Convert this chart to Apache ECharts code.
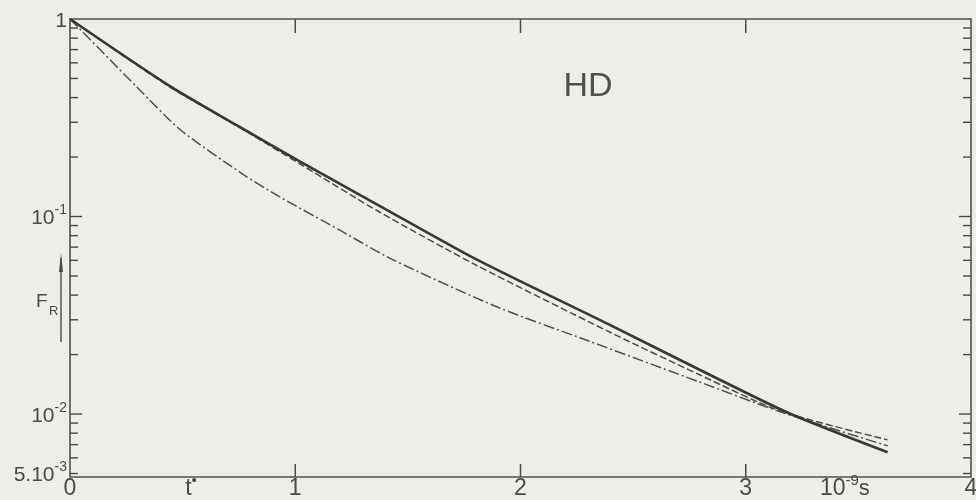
<!DOCTYPE html>
<html>
<head>
<meta charset="utf-8">
<script src="https://cdn.jsdelivr.net/npm/echarts@6/dist/echarts.min.js"></script>
<style>
  html, body { margin: 0; padding: 0; background: #eeede8; }
  #chart { width: 976px; height: 500px; }
</style>
</head>
<body>
<div id="chart"></div>
<script>
// Relaxation function F_R(t), t in units of 1e-9 s
const tSolid = [0, 0.44, 0.74, 1.02, 1.37, 1.80, 2.39, 2.88, 3.20, 3.63];
const fSolid = [1, 0.46, 0.29, 0.19, 0.114, 0.061, 0.0285, 0.0150, 0.0100, 0.0064];

const tDashed = [0, 0.44, 0.74, 1.02, 1.37, 1.80, 2.39, 2.79, 3.15, 3.63];
const fDashed = [1, 0.455, 0.288, 0.185, 0.106, 0.057, 0.0262, 0.0159, 0.0104, 0.0074];

const tDashDot = [0, 0.30, 0.49, 0.77, 0.93, 1.20, 1.43, 1.90, 2.30, 2.79, 3.16, 3.63];
const fDashDot = [1, 0.449, 0.275, 0.163, 0.126, 0.085, 0.0607, 0.0347, 0.0235, 0.0146, 0.0102, 0.0069];

// Axis ticks and labels
const yMajorTicks = [0.1, 0.01];
const yMinorTicks = [0.9, 0.8, 0.7, 0.6, 0.5, 0.4, 0.3, 0.2,
                     0.09, 0.08, 0.07, 0.06, 0.05, 0.04, 0.03, 0.02,
                     0.009, 0.008, 0.007, 0.006, 0.005];
const xTicks = [1, 2, 3];

const yLabelValues = [1, 0.1, 0.01, 0.005];
const yLabelBase = ['1', '10', '10', '5.10'];
const yLabelExp = ['', '-1', '-2', '-3'];

const xLabelValues = [0, 0.537, 1, 2, 3, 3.44, 4];
const xLabelBase = ['0', 't', '1', '2', '3', '10', '4'];
const xLabelSup = ['', '•', '', '', '', '-9', ''];
const xLabelTail = ['', '', '', '', '', 's', ''];

const X_MIN = 0, X_MAX = 4;
const Y_MIN = 0.0048, Y_MAX = 1;

const INK = '#4a4a4a';
const FONT = 'Liberation Sans';

const measureCtx = document.createElement('canvas').getContext('2d');
function textWidth(str, size) {
  measureCtx.font = size + 'px "' + FONT + '"';
  return measureCtx.measureText(str).width;
}

// lay out a run of text pieces (base, superscript, tail) side by side
function textRun(parts, x, y, align) {
  const items = parts.filter(p => p.text);
  const widths = items.map(p => textWidth(p.text, p.size));
  const total = widths.reduce((a, b) => a + b, 0);
  let left = align === 'right' ? x - total : align === 'center' ? x - total / 2 : x;
  return items.map((p, i) => {
    const el = {
      type: 'text',
      x: left,
      y: y + (p.dy || 0),
      style: {
        text: p.text,
        fontSize: p.size,
        fontFamily: FONT,
        fill: INK,
        align: 'left',
        verticalAlign: 'middle'
      }
    };
    left += widths[i];
    return el;
  });
}

const majorSet = new Set(yMajorTicks);
const yTickData = yMajorTicks.concat(yMinorTicks).map(v => [X_MIN, v]);

const chart = echarts.init(document.getElementById('chart'), null, { renderer: 'canvas' });

chart.setOption({
  animation: false,
  backgroundColor: '#eeede8',
  grid: {
    left: 70, top: 19, width: 901, height: 458,
    show: true,
    backgroundColor: 'transparent',
    borderColor: '#505050',
    borderWidth: 1.6
  },
  xAxis: {
    type: 'value', min: X_MIN, max: X_MAX,
    axisLine: { show: false }, axisTick: { show: false },
    axisLabel: { show: false }, splitLine: { show: false }
  },
  yAxis: {
    type: 'log', logBase: 10, min: Y_MIN, max: Y_MAX,
    axisLine: { show: false }, axisTick: { show: false },
    axisLabel: { show: false }, splitLine: { show: false }
  },
  series: [
    {
      name: 'solid',
      type: 'line',
      data: tSolid.map((t, i) => [t, fSolid[i]]),
      showSymbol: false,
      smooth: 0.25,
      lineStyle: { color: '#383838', width: 2.6, type: 'solid' },
      z: 4
    },
    {
      name: 'dashed',
      type: 'line',
      data: tDashed.map((t, i) => [t, fDashed[i]]),
      showSymbol: false,
      smooth: 0.25,
      lineStyle: { color: '#4a4a4a', width: 1.5, type: [7, 3] },
      z: 3
    },
    {
      name: 'dash-dot',
      type: 'line',
      data: tDashDot.map((t, i) => [t, fDashDot[i]]),
      showSymbol: false,
      smooth: 0.25,
      lineStyle: { color: '#505050', width: 1.5, type: [11, 3, 2, 3] },
      z: 3
    },
    {
      // inward ticks on left and right frame
      type: 'custom',
      silent: true,
      data: yTickData,
      encode: { x: 0, y: 1 },
      renderItem(params, api) {
        const v = api.value(1);
        const pl = api.coord([X_MIN, v]);
        const pr = api.coord([X_MAX, v]);
        const len = majorSet.has(v) ? 12 : 8;
        const st = { stroke: INK, lineWidth: 1.4 };
        return {
          type: 'group',
          children: [
            { type: 'line', shape: { x1: pl[0], y1: pl[1], x2: pl[0] + len, y2: pl[1] }, style: st },
            { type: 'line', shape: { x1: pr[0], y1: pr[1], x2: pr[0] - len, y2: pr[1] }, style: st }
          ]
        };
      },
      z: 5
    },
    {
      // inward ticks on bottom and top frame
      type: 'custom',
      silent: true,
      data: xTicks.map(v => [v, Y_MIN]),
      encode: { x: 0, y: 1 },
      renderItem(params, api) {
        const v = api.value(0);
        const pb = api.coord([v, Y_MIN]);
        const pt = api.coord([v, Y_MAX]);
        const st = { stroke: INK, lineWidth: 1.5 };
        return {
          type: 'group',
          children: [
            { type: 'line', shape: { x1: pb[0], y1: pb[1], x2: pb[0], y2: pb[1] - 13 }, style: st },
            { type: 'line', shape: { x1: pt[0], y1: pt[1], x2: pt[0], y2: pt[1] + 14 }, style: st }
          ]
        };
      },
      z: 5
    },
    {
      // y labels with exponents
      type: 'custom',
      silent: true,
      data: yLabelValues.map((v, i) => [X_MIN, v, i]),
      encode: { x: 0, y: 1 },
      renderItem(params, api) {
        const i = api.value(2);
        const p = api.coord([X_MIN, api.value(1)]);
        return {
          type: 'group',
          children: textRun([
            { text: yLabelBase[i], size: 21 },
            { text: yLabelExp[i], size: 14, dy: -8 }
          ], p[0] - 3, p[1] + 2, 'right')
        };
      },
      z: 6
    },
    {
      // x labels
      type: 'custom',
      silent: true,
      data: xLabelValues.map((v, i) => [v, Y_MIN, i]),
      encode: { x: 0, y: 1 },
      renderItem(params, api) {
        const i = api.value(2);
        const p = api.coord([api.value(0), Y_MIN]);
        return {
          type: 'group',
          children: textRun([
            { text: xLabelBase[i], size: 23 },
            { text: xLabelSup[i], size: 15, dy: -8 },
            { text: xLabelTail[i], size: 22 }
          ], p[0], p[1] + 12, 'center')
        };
      },
      z: 6
    }
  ],
  graphic: [
    {
      type: 'text', x: 588, y: 87,
      style: { text: 'HD', fontSize: 34, fontFamily: FONT, fill: '#505050', align: 'center', verticalAlign: 'middle' }
    },
    {
      type: 'text', x: 36, y: 302,
      style: { text: 'F', fontSize: 19, fontFamily: FONT, fill: INK, align: 'left', verticalAlign: 'middle' }
    },
    {
      type: 'text', x: 49, y: 311,
      style: { text: 'R', fontSize: 13, fontFamily: FONT, fill: INK, align: 'left', verticalAlign: 'middle' }
    },
    {
      type: 'line',
      shape: { x1: 61, y1: 258, x2: 61, y2: 342 },
      style: { stroke: INK, lineWidth: 1.4 }
    },
    {
      type: 'polygon',
      shape: { points: [[61, 253], [59, 272], [63, 272]] },
      style: { fill: INK }
    }
  ]
});
</script>
</body>
</html>
